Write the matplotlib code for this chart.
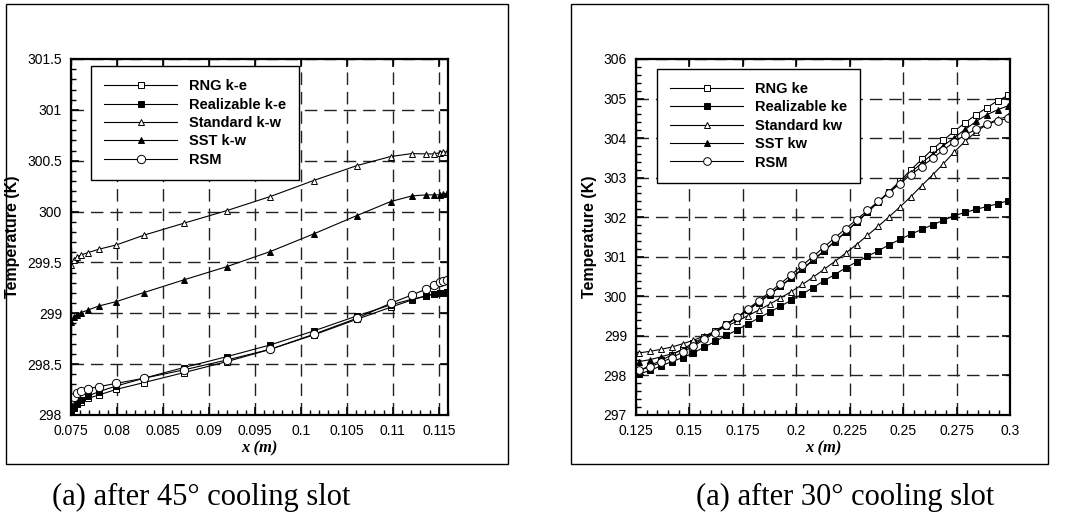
# Temperature along the wall behind the cooling slot, five turbulence models

import matplotlib
matplotlib.use('Agg')
import matplotlib.pyplot as plt
from matplotlib.ticker import MultipleLocator, FuncFormatter
from matplotlib.patches import Rectangle

plt.rcParams['font.family'] = ['Liberation Sans', 'DejaVu Sans']


# ---- data: 45 degree slot (left panel) ----
x45 = [0.075, 0.07533, 0.07562, 0.07609, 0.07688, 0.07804, 0.07993, 0.0829,
       0.08725, 0.09196, 0.09667, 0.10138, 0.10609, 0.10975, 0.11207, 0.11359,
       0.11453, 0.11511, 0.11547, 0.11584]
rng45 = [298.033, 298.075, 298.115, 298.131, 298.164, 298.197, 298.252, 298.318,
         298.416, 298.525, 298.646, 298.787, 298.941, 299.059, 299.131, 299.170,
         299.190, 299.197, 299.203, 299.210]
real45 = [298.016, 298.066, 298.108, 298.148, 298.187, 298.230, 298.285, 298.361,
          298.466, 298.574, 298.689, 298.826, 298.974, 299.082, 299.138, 299.170,
          299.190, 299.197, 299.203, 299.210]
std45 = [299.475, 299.525, 299.551, 299.574, 299.597, 299.630, 299.672, 299.767,
         299.885, 300.010, 300.148, 300.305, 300.452, 300.541, 300.570, 300.567,
         300.567, 300.580, 300.590, 300.584]
sst45 = [298.918, 298.967, 298.984, 299.007, 299.033, 299.072, 299.115, 299.203,
         299.328, 299.459, 299.607, 299.780, 299.961, 300.098, 300.154, 300.164,
         300.164, 300.164, 300.170, 300.180]
rsm45 = [298.154, 298.180, 298.213, 298.239, 298.259, 298.279, 298.311, 298.361,
         298.443, 298.541, 298.646, 298.793, 298.951, 299.098, 299.180, 299.236,
         299.279, 299.305, 299.318, 299.328]

# ---- data: 30 degree slot (right panel) ----
x30 = [0.1265, 0.1316, 0.1367, 0.1418, 0.1468, 0.1519, 0.1570, 0.1621, 0.1672,
       0.1723, 0.1773, 0.1824, 0.1875, 0.1926, 0.1977, 0.2028, 0.2078, 0.2129,
       0.2180, 0.2231, 0.2282, 0.2333, 0.2383, 0.2434, 0.2485, 0.2536, 0.2587,
       0.2638, 0.2688, 0.2739, 0.2790, 0.2841, 0.2892, 0.2943, 0.2992]
rng30 = [298.12, 298.25, 298.38, 298.52, 298.67, 298.82, 298.97, 299.13, 299.30,
         299.47, 299.66, 299.85, 300.05, 300.26, 300.47, 300.69, 300.92, 301.15,
         301.39, 301.63, 301.88, 302.13, 302.39, 302.65, 302.91, 303.20, 303.46,
         303.72, 303.95, 304.17, 304.39, 304.59, 304.77, 304.95, 305.08]
real30 = [298.03, 298.13, 298.24, 298.35, 298.45, 298.57, 298.72, 298.86, 299.01,
          299.15, 299.30, 299.45, 299.60, 299.75, 299.90, 300.06, 300.22, 300.39,
          300.55, 300.72, 300.87, 301.01, 301.15, 301.30, 301.44, 301.57, 301.69,
          301.81, 301.92, 302.04, 302.12, 302.20, 302.27, 302.34, 302.42]
std30 = [298.57, 298.61, 298.66, 298.72, 298.80, 298.89, 299.00, 299.11, 299.24,
         299.37, 299.51, 299.65, 299.80, 299.96, 300.12, 300.30, 300.48, 300.68,
         300.88, 301.09, 301.31, 301.54, 301.77, 302.01, 302.26, 302.52, 302.80,
         303.07, 303.35, 303.65, 303.92, 304.16, 304.35, 304.48, 304.55]
sst30 = [298.35, 298.40, 298.47, 298.55, 298.64, 298.78, 298.94, 299.11, 299.29,
         299.46, 299.65, 299.84, 300.04, 300.25, 300.46, 300.68, 300.91, 301.14,
         301.38, 301.62, 301.87, 302.12, 302.38, 302.63, 302.88, 303.13, 303.37,
         303.60, 303.81, 304.01, 304.22, 304.42, 304.59, 304.72, 304.82]
rsm30 = [298.13, 298.22, 298.33, 298.45, 298.59, 298.74, 298.91, 299.08, 299.27,
         299.47, 299.68, 299.89, 300.10, 300.32, 300.55, 300.78, 301.01, 301.24,
         301.48, 301.71, 301.94, 302.17, 302.40, 302.62, 302.85, 303.07, 303.28,
         303.49, 303.70, 303.90, 304.08, 304.22, 304.35, 304.44, 304.50]

labels45 = ['RNG k-e', 'Realizable k-e', 'Standard k-w', 'SST k-w', 'RSM']
labels30 = ['RNG ke', 'Realizable ke', 'Standard kw', 'SST kw', 'RSM']

# marker, face colour, size for each model
styles = [('s', 'white', 4.2), ('s', 'black', 4.4), ('^', 'white', 4.8),
          ('^', 'black', 4.2), ('o', 'white', 6.0)]


fig = plt.figure(figsize=(10.84, 5.18), dpi=100)

# outer frames around each sub-figure
fig.patches.append(Rectangle((6 / 1084, 1 - 464 / 518), 502 / 1084, 460 / 518,
                             transform=fig.transFigure, fill=False, lw=1.0, ec='black'))
fig.patches.append(Rectangle((571 / 1084, 1 - 464 / 518), 477 / 1084, 460 / 518,
                             transform=fig.transFigure, fill=False, lw=1.0, ec='black'))

ax1 = fig.add_axes([71 / 1084, 103 / 518, 377 / 1084, 356 / 518])
ax2 = fig.add_axes([636 / 1084, 103 / 518, 374 / 1084, 356 / 518])


def setup(ax, xlim, ylim, xmaj, xmin, ymaj, ymin):
    ax.set_xlim(*xlim)
    ax.set_ylim(*ylim)
    ax.xaxis.set_major_locator(MultipleLocator(xmaj))
    ax.xaxis.set_minor_locator(MultipleLocator(xmin))
    ax.yaxis.set_major_locator(MultipleLocator(ymaj))
    ax.yaxis.set_minor_locator(MultipleLocator(ymin))
    fmt = FuncFormatter(lambda v, p: '%g' % round(v, 4))
    ax.xaxis.set_major_formatter(fmt)
    ax.yaxis.set_major_formatter(fmt)
    ax.tick_params(which='major', direction='in', length=6, width=1.2,
                   top=True, right=True, labelsize=10, pad=6.5)
    ax.tick_params(which='minor', direction='in', length=3.5, width=1.0,
                   top=False, right=False)
    for s in ax.spines.values():
        s.set_linewidth(1.6)
    ax.grid(True, which='major', ls=(0, (9, 5)), color='#222222', lw=1.0)
    ax.set_axisbelow(True)
    ax.set_xlabel('x (m)', family=['Liberation Serif'], style='italic',
                  weight='bold', fontsize=12, labelpad=2)
    ax.set_ylabel('Temperature (K)', weight='bold', fontsize=11.5, labelpad=5)


setup(ax1, (0.075, 0.116), (298, 301.5), 0.005, 0.001, 0.5, 0.1)
setup(ax2, (0.125, 0.3), (297, 306), 0.025, 0.005, 1, 0.2)

for ys, lab, st in zip([rng45, real45, std45, sst45, rsm45], labels45, styles):
    ax1.plot(x45, ys, color='black', lw=0.8, marker=st[0], mfc=st[1],
             mec='black', ms=st[2], mew=0.7, label=lab)

for ys, lab, st in zip([rng30, real30, std30, sst30, rsm30], labels30, styles):
    ax2.plot(x30, ys, color='black', lw=0.8, marker=st[0], mfc=st[1],
             mec='black', ms=st[2] * 0.92, mew=0.7, label=lab)

for ax, anchor in [(ax1, (0.053, 0.98)), (ax2, (0.056, 0.972))]:
    leg = ax.legend(loc='upper left', bbox_to_anchor=anchor, fancybox=False,
                    edgecolor='black', framealpha=1, numpoints=1,
                    handlelength=5.0, handletextpad=0.8, borderpad=0.9,
                    labelspacing=0.3, borderaxespad=0,
                    prop={'weight': 'bold', 'size': 10.5})
    leg.get_frame().set_linewidth(1.0)
    leg.set_zorder(5)

# captions under each panel
fig.text(201 / 1084, 1 - 497 / 518, '(a) after 45° cooling slot', ha='center',
         va='center', family=['Liberation Serif'], fontsize=22)
fig.text(845 / 1084, 1 - 497 / 518, '(a) after 30° cooling slot', ha='center',
         va='center', family=['Liberation Serif'], fontsize=22)

fig.savefig('out.png', dpi=100)
